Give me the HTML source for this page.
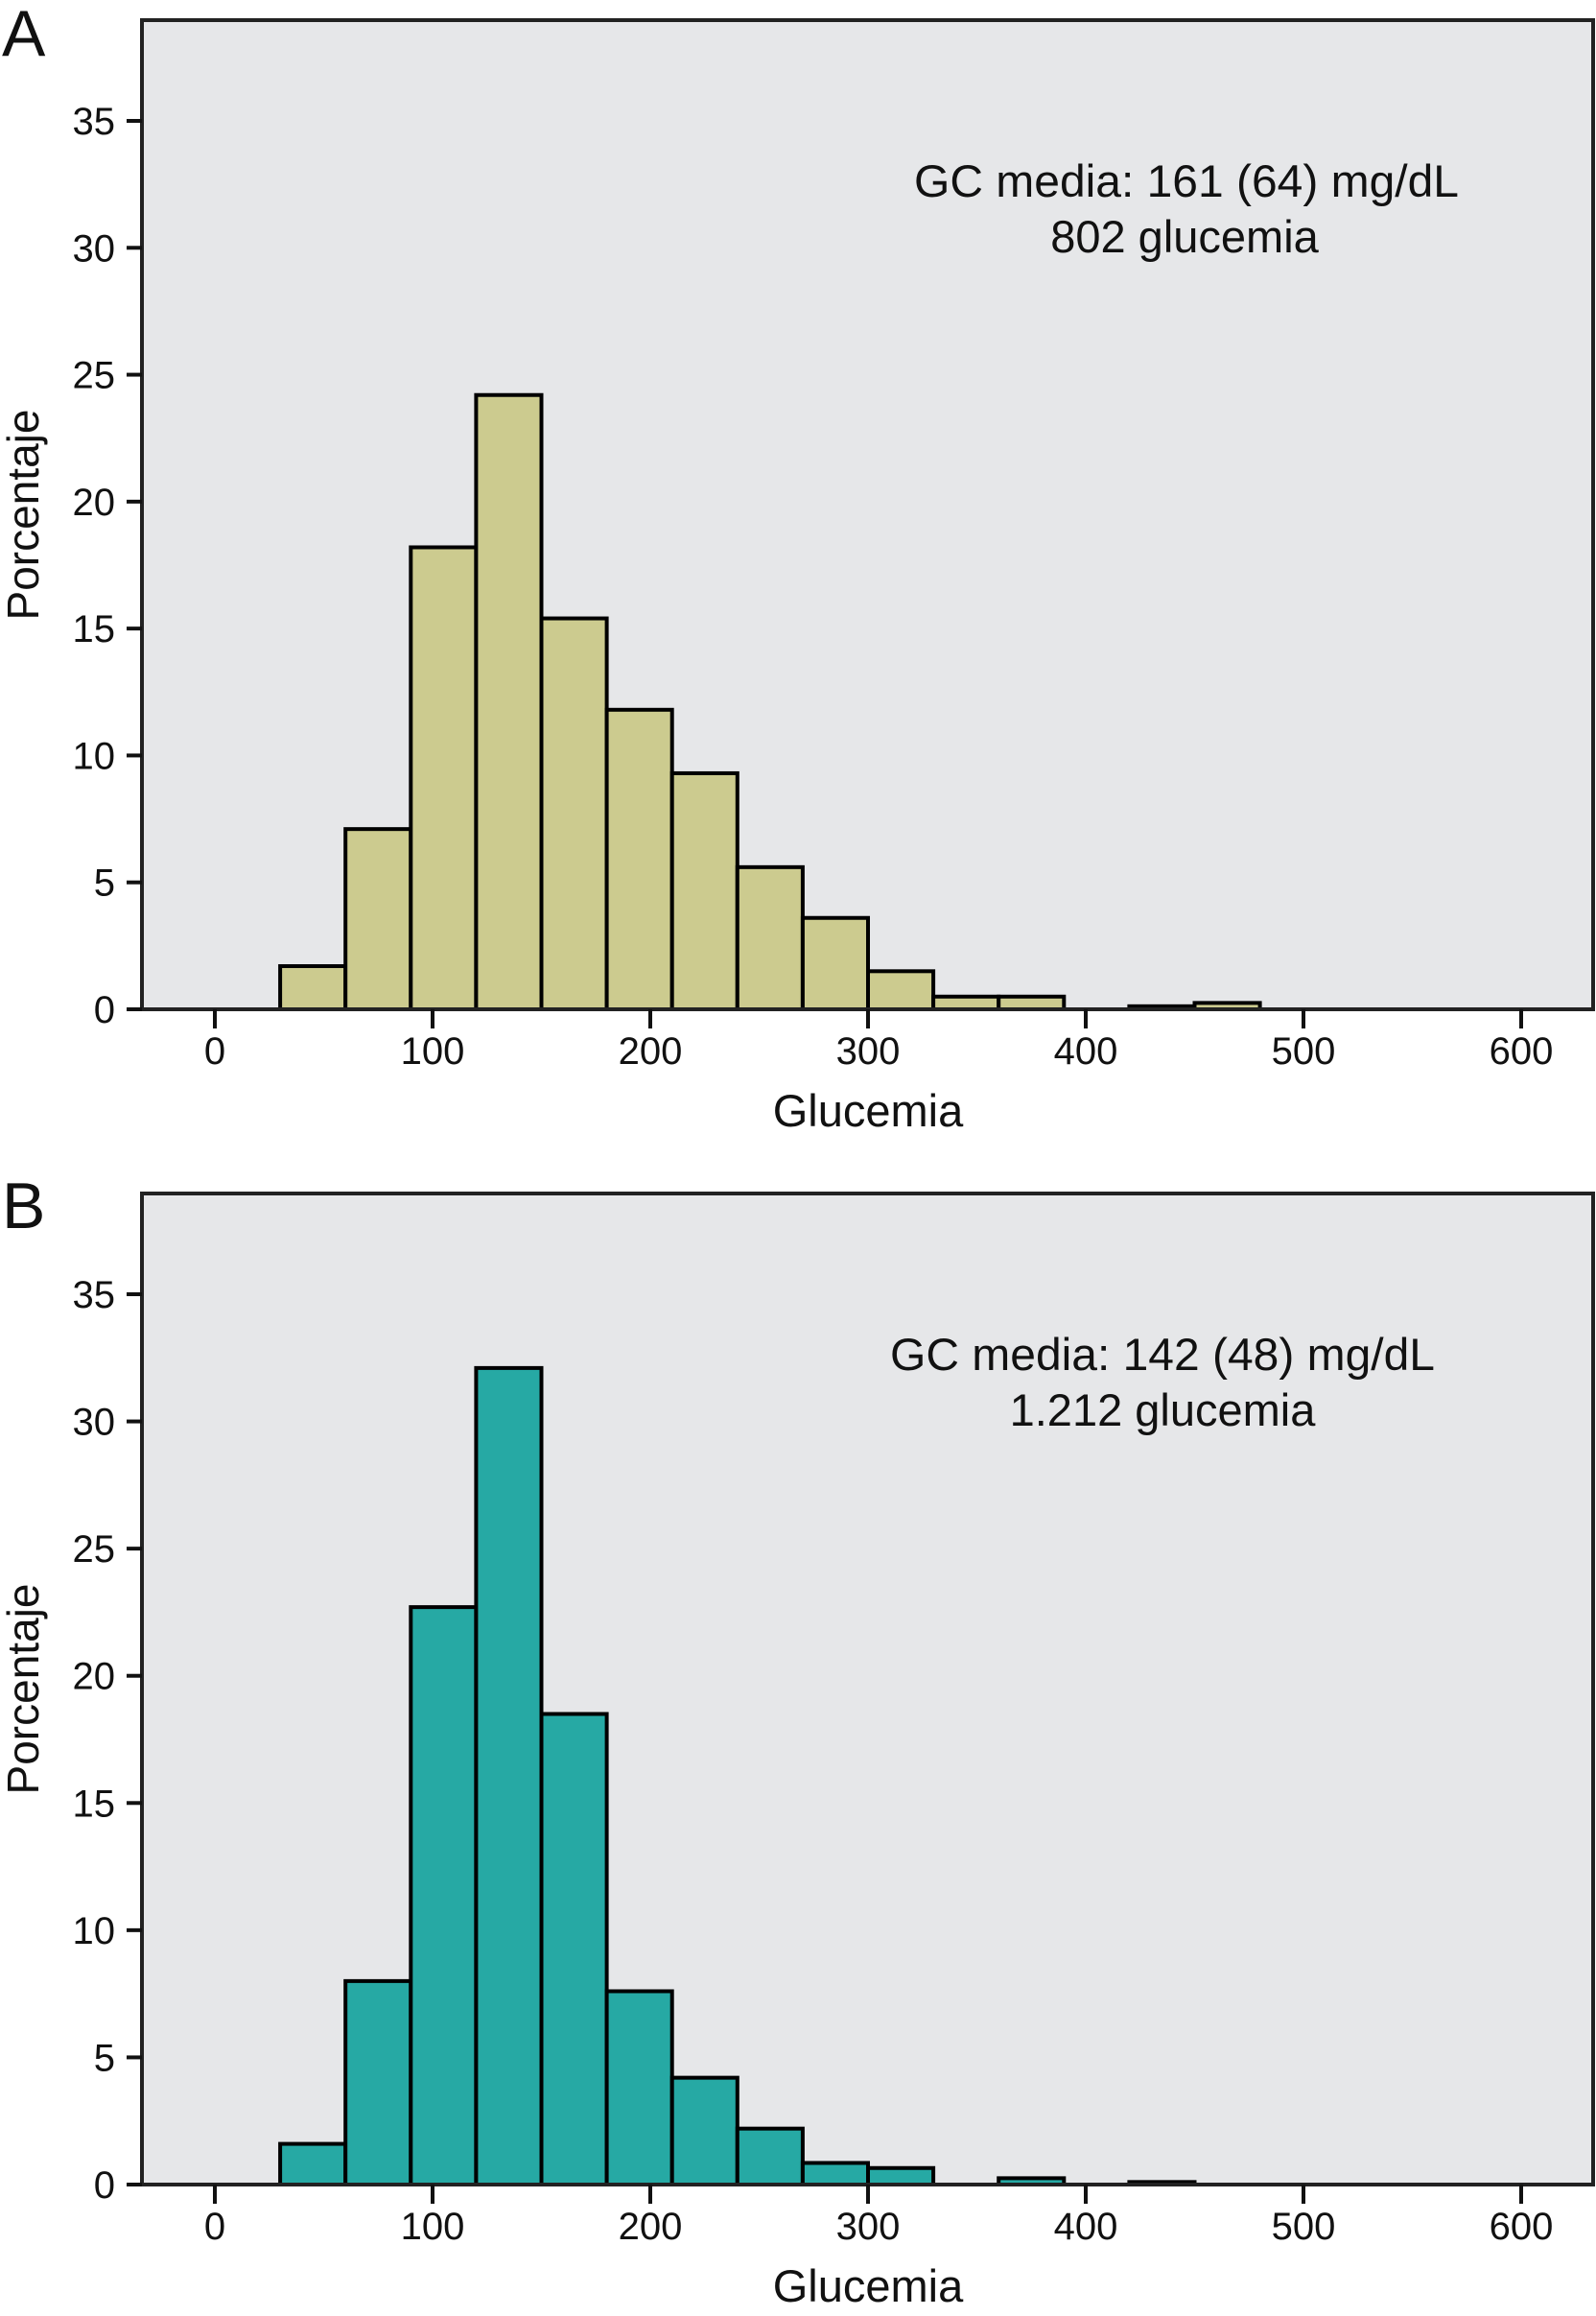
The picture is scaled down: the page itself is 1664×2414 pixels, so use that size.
<!DOCTYPE html>
<html><head><meta charset="utf-8"><style>
body{margin:0;background:#fff}
svg text{font-family:"Liberation Sans",sans-serif;fill:#111}
</style></head><body>
<svg id="fig" width="1664" height="2409" viewBox="0 0 1664 2409" xmlns="http://www.w3.org/2000/svg"></svg>
<script>
const binStarts = [30,60,90,120,150,180,210,240,270,300,330,360,390,420,450];
const seriesA = [1.7,7.1,18.2,24.2,15.4,11.8,9.3,5.6,3.6,1.5,0.5,0.5,0,0.12,0.25];
const seriesB = [1.6,8.0,22.7,32.1,18.5,7.6,4.2,2.2,0.85,0.65,0,0.25,0,0.1,0];
const binWidth = 30;
const yTicks = [0,5,10,15,20,25,30,35];
const xTicks = [0,100,200,300,400,500,600];
const annotA = ["GC media: 161 (64) mg/dL","802 glucemia"];
const annotB = ["GC media: 142 (48) mg/dL","1.212 glucemia"];

const NS="http://www.w3.org/2000/svg";
const svg=document.getElementById('fig');
function mk(tag,attrs,parent){const e=document.createElementNS(NS,tag);for(const k in attrs)e.setAttribute(k,attrs[k]);(parent||svg).appendChild(e);return e;}

function panel(opt){
  const g=mk('g',{});
  
  
  const L=148,R=1661,T=opt.top,B=opt.base;
  const x=v=>224+(v)*(1586-224)/600;
  const y=v=>B-v*(B-opt.y35)/35;
  const bg=mk('rect',{x:L,y:T,width:R-L,height:B-T,fill:'#e6e7e9',stroke:'#222','stroke-width':4},g);
  
  
  opt.vals.forEach((v,i)=>{
    if(v<=0)return;
    const r=mk('rect',{x:x(binStarts[i]),y:y(v),width:x(binStarts[i]+binWidth)-x(binStarts[i]),height:B-y(v),fill:opt.color,stroke:'#000','stroke-width':4},g);
    
    
  });
  mk('line',{x1:L,y1:B,x2:R,y2:B,stroke:'#222','stroke-width':4},g);
  yTicks.forEach(t=>{
    mk('line',{x1:132,y1:y(t),x2:L,y2:y(t),stroke:'#111','stroke-width':4},g);
    const tx=mk('text',{x:120,y:y(t)+14,'text-anchor':'end','font-size':40},g);
    tx.textContent=t;
    
    
  });
  xTicks.forEach(t=>{
    mk('line',{x1:x(t),y1:B,x2:x(t),y2:B+20,stroke:'#111','stroke-width':4},g);
    const tx=mk('text',{x:x(t),y:B+57,'text-anchor':'middle','font-size':40},g);
    tx.textContent=t;
    
    
  });
  const xt=mk('text',{x:905,y:B+122,'text-anchor':'middle','font-size':47},g);
  xt.textContent='Glucemia';
  
  
  const cy=(T+B)/2;
  const yt=mk('text',{x:0,y:0,'text-anchor':'middle','font-size':46,transform:`translate(40,${cy}) rotate(-90)`},g);
  yt.textContent='Porcentaje';
  
  
  const pl=mk('text',{x:2,y:opt.letterY,'font-size':68},g);
  pl.textContent=opt.letter;
  
  
  const a1=mk('text',{x:opt.ax,y:T+184,'text-anchor':'middle','font-size':47,textLength:568,lengthAdjust:'spacingAndGlyphs'},g);
  a1.textContent=opt.annot[0];
  
  
  const a2=mk('text',{x:opt.ax2,y:T+242,'text-anchor':'middle','font-size':47},g);
  a2.textContent=opt.annot[1];
  
  
}
panel({name:'panel-a',top:21,base:1052,y35:126,vals:seriesA,color:'#cccb8f',letter:'A',letterY:58,annot:annotA,ax:1237,ax2:1235});
panel({name:'panel-b',top:1244,base:2277,y35:1349,vals:seriesB,color:'#26a9a4',letter:'B',letterY:1280,annot:annotB,ax:1212,ax2:1212});
</script>
</body></html>
